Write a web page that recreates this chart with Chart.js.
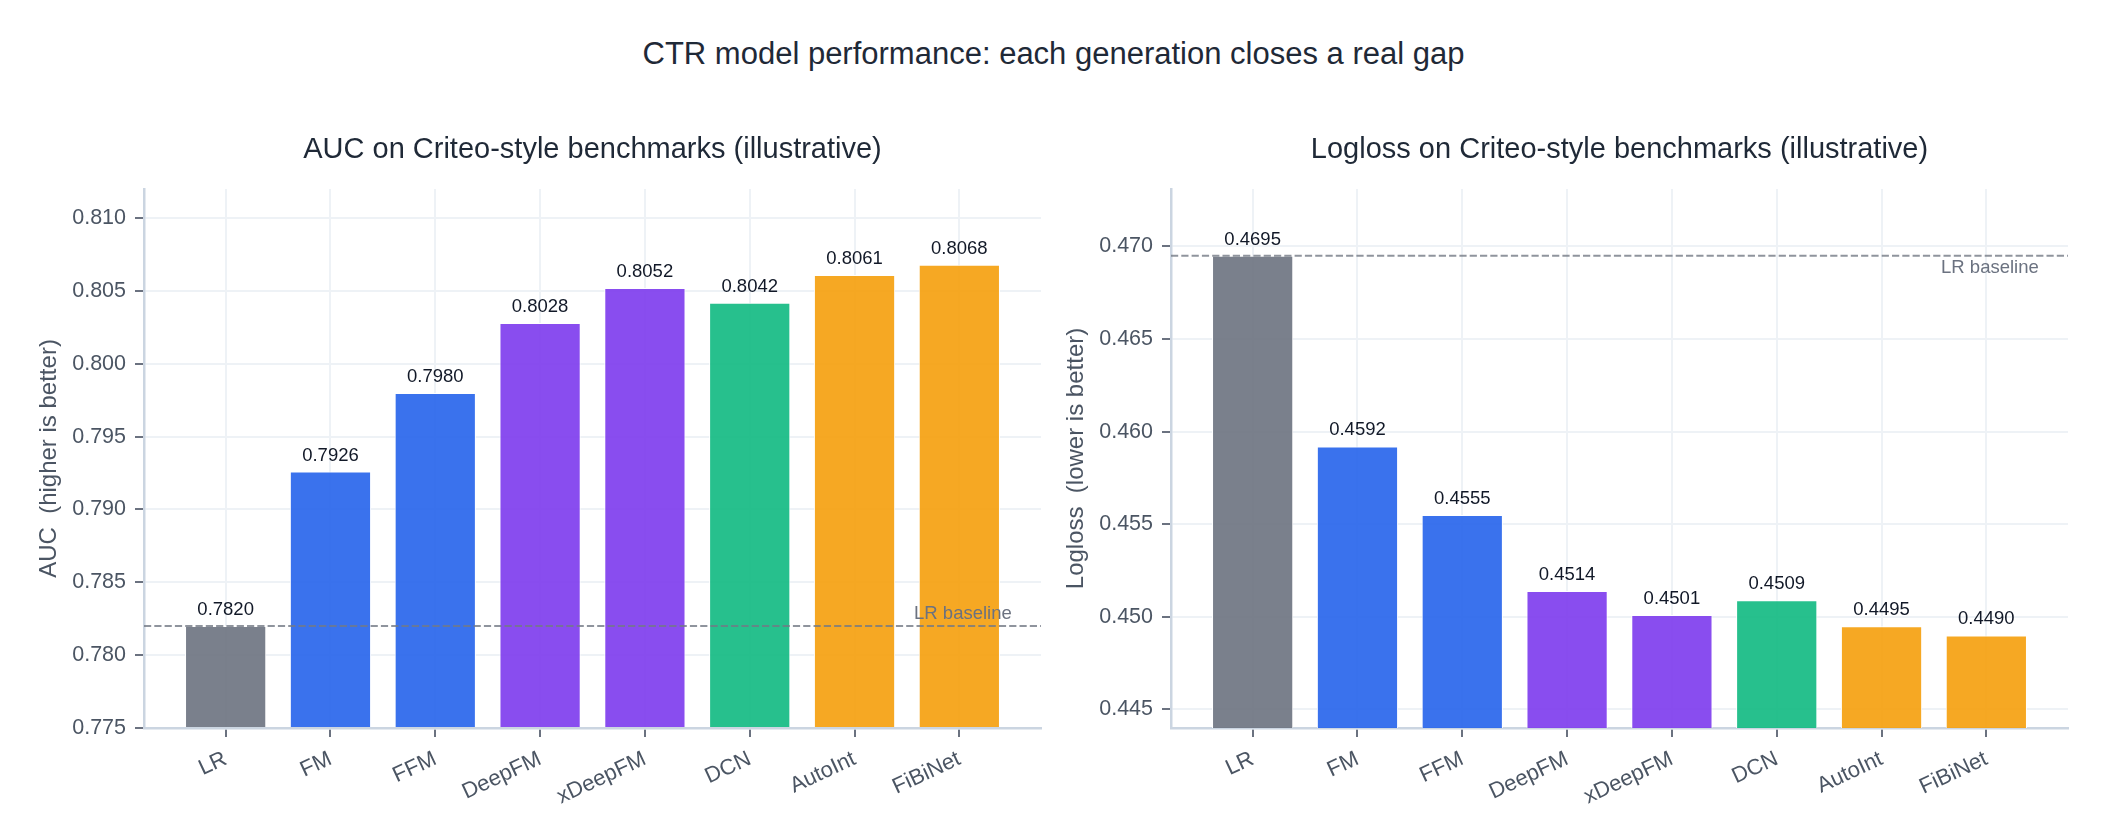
<!DOCTYPE html>
<html>
<head>
<meta charset="utf-8">
<script src="https://cdn.jsdelivr.net/npm/chart.js@4.4.1/dist/chart.umd.min.js"></script>
<style>
  html, body { margin: 0; padding: 0; background: #fff; }
  #wrap { position: relative; width: 2107px; height: 836px; overflow: hidden; }
  #sup { position: absolute; left: 0; top: 36px; width: 2107px; text-align: center;
         font: 31px "Liberation Sans", Arial, sans-serif; line-height: 36px; color: #1f2937; }
  .box { position: absolute; top: 0; height: 836px; }
  #b1 { left: 0; width: 1053px; }
  #b2 { left: 1027px; width: 1080px; }
</style>
</head>
<body>
<div id="wrap">
  <div id="sup">CTR model performance: each generation closes a real gap</div>
  <div class="box" id="b1"><canvas id="c1"></canvas></div>
  <div class="box" id="b2"><canvas id="c2"></canvas></div>
</div>
<script>
// data
const models = ['LR', 'FM', 'FFM', 'DeepFM', 'xDeepFM', 'DCN', 'AutoInt', 'FiBiNet'];
const auc = [0.7820, 0.7926, 0.7980, 0.8028, 0.8052, 0.8042, 0.8061, 0.8068];
const logloss = [0.4695, 0.4592, 0.4555, 0.4514, 0.4501, 0.4509, 0.4495, 0.4490];
const aucTicks = [0.775, 0.780, 0.785, 0.790, 0.795, 0.800, 0.805, 0.810];
const loglossTicks = [0.445, 0.450, 0.455, 0.460, 0.465, 0.470];
const aucBaseline = 0.7820;
const loglossBaseline = 0.4695;

const gray = 'rgba(107,114,128,0.9)';
const blue = 'rgba(37,99,235,0.9)';
const violet = 'rgba(124,58,237,0.9)';
const green = 'rgba(16,185,129,0.9)';
const amber = 'rgba(245,158,11,0.9)';
const barColors = [gray, blue, blue, violet, violet, green, amber, amber];

const FONT = '"Liberation Sans", Arial, sans-serif';

function makeChart(id, title, yTitle, values, yTicks, yMin, yMax, baseline, labelAbove, padRight) {
  const ctx = document.getElementById(id).getContext('2d');

  // titulo, etiquetas de valor y linea base
  const extras = {
    id: 'extras' + id,
    afterDatasetsDraw(chart) {
      const c = chart.ctx;
      const area = chart.chartArea;
      const xs = chart.scales.x;
      const ys = chart.scales.y;
      c.save();
      // linea base punteada
      const by = ys.getPixelForValue(baseline);
      c.strokeStyle = 'rgba(115,121,133,0.8)';
      c.lineWidth = 2;
      c.setLineDash([7.2, 3.1]);
      c.beginPath();
      c.moveTo(area.left, by);
      c.lineTo(area.right, by);
      c.stroke();
      c.setLineDash([]);
      c.font = '18.5px ' + FONT;
      c.fillStyle = '#6b7280';
      c.textAlign = 'right';
      const tx = xs.getPixelForValue(models.length - 0.5);
      if (labelAbove) {
        c.textBaseline = 'alphabetic';
        c.fillText('LR baseline', tx, by - 7);
      } else {
        c.textBaseline = 'top';
        c.fillText('LR baseline', tx, by + 3);
      }
      // valores encima de las barras
      c.fillStyle = '#111827';
      c.textAlign = 'center';
      c.textBaseline = 'alphabetic';
      chart.getDatasetMeta(0).data.forEach((bar, i) => {
        c.fillText(values[i].toFixed(4), bar.x, bar.y - 11);
      });
      // titulo del subplot
      c.font = '29px ' + FONT;
      c.fillStyle = '#1f2937';
      c.textBaseline = 'middle';
      c.fillText(title, (area.left + area.right) / 2, 150);
      c.restore();
    }
  };

  return new Chart(ctx, {
    type: 'bar',
    data: {
      datasets: [{
        data: values.map((v, i) => ({ x: i, y: v })),
        backgroundColor: barColors,
        borderColor: '#ffffff',
        borderWidth: 1,
        base: yMin,
        barPercentage: 0.775,
        categoryPercentage: 1
      }]
    },
    options: {
      responsive: true,
      maintainAspectRatio: false,
      animation: false,
      events: [],
      layout: { padding: { top: 189, right: padRight, left: 0, bottom: 0 } },
      plugins: { legend: { display: false }, tooltip: { enabled: false } },
      scales: {
        x: {
          type: 'linear',
          offset: false,
          min: -0.779,
          max: models.length - 1 + 0.779,
          afterBuildTicks: s => { s.ticks = models.map((m, i) => ({ value: i })); },
          afterFit: s => { s.height = 108; },
          grid: { offset: false, color: '#eef2f6', lineWidth: 2, tickColor: '#6b7280', tickLength: 9, tickWidth: 2 },
          border: { color: '#cbd5e1', width: 2.5 },
          ticks: {
            autoSkip: false,
            minRotation: 25,
            maxRotation: 25,
            padding: 9,
            color: '#4b5563',
            font: { family: FONT, size: 22 },
            callback: v => models[v]
          }
        },
        y: {
          min: yMin,
          max: yMax,
          afterBuildTicks: s => { s.ticks = yTicks.map(v => ({ value: v })); },
          afterFit: s => { s.width = 144; },
          grid: { color: '#eef2f6', lineWidth: 2, tickColor: '#6b7280', tickLength: 9, tickWidth: 2 },
          border: { color: '#cbd5e1', width: 2.5 },
          ticks: {
            padding: 9,
            color: '#4b5563',
            font: { family: FONT, size: 21.5 },
            callback: v => v.toFixed(3)
          },
          title: {
            display: true,
            text: yTitle,
            color: '#4b5563',
            font: { family: FONT, size: 24 },
            padding: { top: 35, bottom: 0 }
          }
        }
      }
    },
    plugins: [extras]
  });
}

makeChart('c1', 'AUC on Criteo-style benchmarks (illustrative)', 'AUC  (higher is better)',
  auc, aucTicks, 0.775, 0.8120, aucBaseline, true, 12);
makeChart('c2', 'Logloss on Criteo-style benchmarks (illustrative)', 'Logloss  (lower is better)',
  logloss, loglossTicks, 0.4440, 0.4731, loglossBaseline, false, 39);
</script>
</body>
</html>
